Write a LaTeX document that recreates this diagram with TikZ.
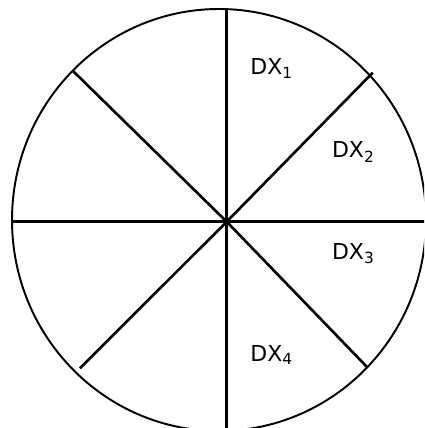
\documentclass[tikz,border=0pt]{standalone}
\usepackage{fontspec}
\setmainfont{DejaVu Sans}
\usetikzlibrary{positioning}

\begin{document}
\begin{tikzpicture}[
  x=0.02cm, y=-0.02cm,
  rim/.style={line width=1.1pt},
  spoke/.style={line width=1.5pt},
  sector/.style={anchor=base west, inner sep=0pt, font=\fontsize{12.5}{14}\selectfont}
]
  \clip (0,0) rectangle (424,428);

  \coordinate (c)  at (226.7,221.7);
  \coordinate (n)  at (226.7,9);
  \coordinate (s)  at (226.7,432);
  \coordinate (w)  at (12.7,221.7);
  \coordinate (e)  at (432,221.7);
  \coordinate (nw) at (72.7,70.7);
  \coordinate (ne) at (372.7,72.7);
  \coordinate (sw) at (80,368.3);
  \coordinate (se) at (367.7,367.7);

  \draw[rim] (219,220) ellipse [x radius=207, y radius=211];
  \foreach \p in {n,s,w,e,nw,ne,sw,se}
    \draw[spoke] (c) -- (\p);

  \node[sector] (dx1) at (250,75)    {DX\textsubscript{1}};
  \node[sector] (dx2) at (331.7,158) {DX\textsubscript{2}};
  \node[sector] (dx3) at (331.7,259.3) {DX\textsubscript{3}};
  \node[sector] (dx4) at (250,361)   {DX\textsubscript{4}};
\end{tikzpicture}
\end{document}
